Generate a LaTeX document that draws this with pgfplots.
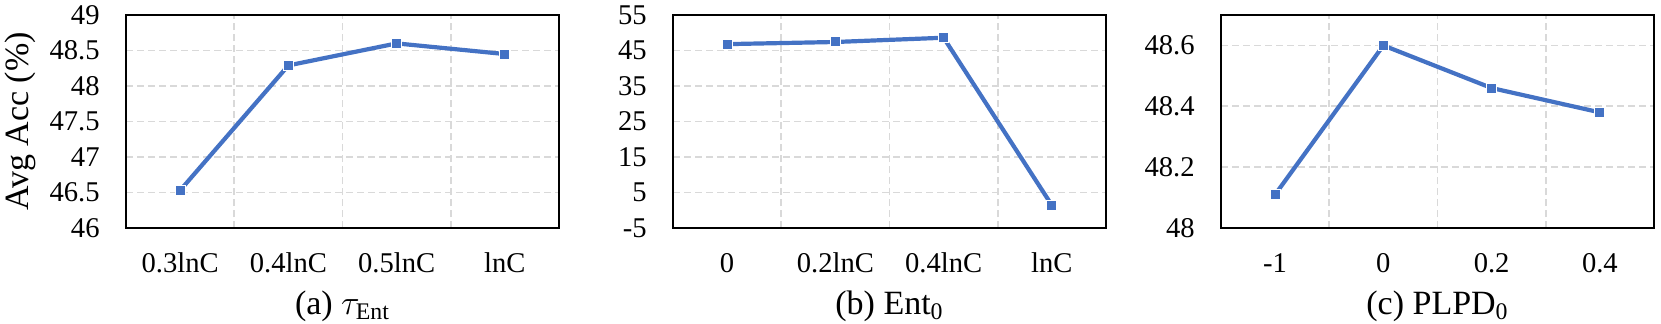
\documentclass[border=0pt]{standalone}
\usepackage{fontspec}
\setmainfont{Liberation Serif}
\usepackage{pgfplots}
\pgfplotsset{compat=1.18}
\definecolor{lineblue}{RGB}{68,114,196}
\definecolor{gridgray}{RGB}{217,217,217}

\pgfplotsset{
  panel/.style={
    scale only axis, width=216.5pt, height=106.5pt, anchor=south west,
    axis line style={line width=1pt, black},
    xmin=-0.5, xmax=3.5, xtick={0,1,2,3},
    minor xtick={0.5,1.5,2.5},
    xminorgrids=true, ymajorgrids=true,
    major tick length=0pt, minor tick length=0pt,
    grid style={gridgray, line width=0.8pt, dash pattern=on 3.5pt off 2pt},
    minor grid style={gridgray, line width=0.8pt, dash pattern=on 3.5pt off 2pt},
    tick label style={font=\rmfamily\fontsize{14.3}{16}\selectfont},
    xticklabel style={anchor=base, yshift=-22pt, inner sep=0pt},
    yticklabel style={anchor=east, xshift=-13pt, inner sep=0pt},
    clip=false,
  },
  ser/.style={lineblue, line width=2.1pt, mark=square*, mark size=2.5pt,
    mark options={fill=lineblue, draw=white, line width=0.5pt, solid}},
}

\begin{document}
\begin{tikzpicture}
\useasboundingbox (0,0) rectangle (830.5pt,161.5pt);

% (a) tau_Ent
\begin{axis}[panel, at={(63pt,47.5pt)},
  ymin=46, ymax=49,
  ytick={46,46.5,47,47.5,48,48.5,49},
  yticklabels={46,46.5,47,47.5,48,48.5,49},
  xticklabels={0.3lnC,0.4lnC,0.5lnC,lnC}]
\addplot[ser] coordinates {(0,46.53) (1,48.29) (2,48.60) (3,48.45)};
\end{axis}

% (b) Ent_0
\begin{axis}[panel, at={(336.5pt,47.5pt)},
  ymin=-5, ymax=55,
  ytick={-5,5,15,25,35,45,55},
  yticklabels={-5,5,15,25,35,45,55},
  xticklabels={0,0.2lnC,0.4lnC,lnC}]
\addplot[ser] coordinates {(0,46.8) (1,47.4) (2,48.6) (3,1.4)};
\end{axis}

% (c) PLPD_0
\begin{axis}[panel, at={(610.5pt,47.5pt)},
  ymin=48, ymax=48.7,
  ytick={48,48.2,48.4,48.6},
  yticklabels={48,48.2,48.4,48.6},
  xticklabels={-1,0,0.2,0.4}]
\addplot[ser] coordinates {(0,48.11) (1,48.60) (2,48.46) (3,48.38)};
\end{axis}

\node[rotate=90, font=\rmfamily\fontsize{17}{20}\selectfont] at (10pt,100.75pt) {Avg Acc (\%)};
\node[anchor=base, font=\rmfamily\fontsize{17}{20}\selectfont] at (171.25pt,4.5pt) {(a) $\tau_{\mathrm{Ent}}$};
\node[anchor=base, font=\rmfamily\fontsize{17}{20}\selectfont] at (444.75pt,4.5pt) {(b) Ent\textsubscript{0}};
\node[anchor=base, font=\rmfamily\fontsize{17}{20}\selectfont] at (718.75pt,4.5pt) {(c) PLPD\textsubscript{0}};
\end{tikzpicture}
\end{document}
